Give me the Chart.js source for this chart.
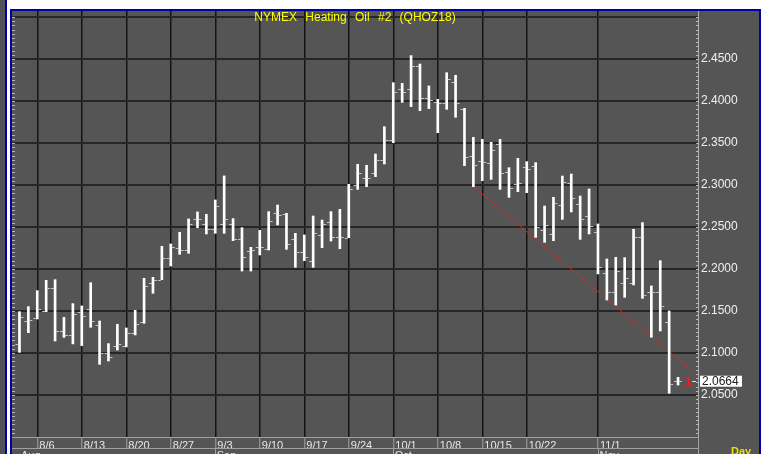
<!DOCTYPE html>
<html>
<head>
<meta charset="utf-8">
<script src="https://cdn.jsdelivr.net/npm/chart.js@4.4.1/dist/chart.umd.min.js"></script>
<style>
  html, body { margin: 0; padding: 0; background: #fff; }
  body { width: 766px; height: 454px; position: relative; overflow: hidden; }
  #strip { position: absolute; left: 0; top: 0; width: 5px; height: 454px; background: #50505a; }
  #rule { position: absolute; left: 5px; top: 0; width: 2px; height: 454px; background: #0000a8; }
  #frame { position: absolute; left: 10px; top: 9px; width: 747px; height: 443px; border: 2px solid #0000a8; border-bottom: 0; background: #555; }
  #c { position: absolute; left: 12px; top: 11px; background: #555; }
</style>
</head>
<body>
<div id="strip"></div>
<div id="rule"></div>
<div id="frame"></div>
<canvas id="c" width="747" height="443"></canvas>
<script>
// trading day index: 0 = 8/6; first bar is 8/2
const firstDay = -2;
const weekTicks = [0, 5, 10, 15, 20, 25, 30, 35, 40, 45, 50, 55, 63];
const weekLabels = ['8/6', '8/13', '8/20', '8/27', '9/3', '9/10', '9/17', '9/24', '10/1', '10/8', '10/15', '10/22', '11/1'];
const monthTicks = [-2, 20, 40, 63];
const monthLabels = ['Aug', 'Sep', 'Oct', 'Nov'];

const opens = [
  2.1112, 2.1385, 2.1420, 2.1500, 2.1778, 2.1262, 2.1215, 2.1492, 2.1528, 2.1333,
  2.1004, 2.1088, 2.1088, 2.1234, 2.1366, 2.1830, 2.1873, 2.2131, 2.2250, 2.2227,
  2.2592, 2.2536, 2.2472, 2.2536, 2.2536, 2.2357, 2.2214, 2.2266, 2.2238, 2.2671,
  2.2659, 2.2353, 2.2206, 2.2099, 2.2405, 2.2564, 2.2377, 2.2373, 2.2996, 2.3087,
  2.3147, 2.3298, 2.3536, 2.4139, 2.4139, 2.4421, 2.4032, 2.3988, 2.3980, 2.4230,
  2.3901, 2.3345, 2.3290, 2.3266, 2.3488, 2.3151, 2.3008, 2.3218, 2.3226, 2.2464,
  2.2413, 2.2758, 2.3028, 2.2774, 2.2631, 2.2437, 2.1948, 2.1730, 2.1837, 2.1829,
  2.2377, 2.1730, 2.1730, 2.1365, 2.0671
];
const highs = [
  2.1492, 2.1552, 2.1742, 2.1865, 2.1873, 2.1425, 2.1588, 2.1560, 2.1837, 2.1381,
  2.1112, 2.1342, 2.1298, 2.1508, 2.1889, 2.1901, 2.2270, 2.2298, 2.2437, 2.2596,
  2.2679, 2.2651, 2.2822, 2.3108, 2.2600, 2.2492, 2.2258, 2.2460, 2.2683, 2.2762,
  2.2663, 2.2425, 2.2405, 2.2631, 2.2583, 2.2683, 2.2710, 2.3008, 2.3246, 2.3234,
  2.3369, 2.3694, 2.4218, 2.4210, 2.4540, 2.4440, 2.4179, 2.4020, 2.4337, 2.4306,
  2.3913, 2.3567, 2.3544, 2.3508, 2.3544, 2.3206, 2.3317, 2.3278, 2.3266, 2.2750,
  2.2853, 2.3107, 2.3131, 2.2869, 2.2952, 2.2536, 2.2119, 2.2139, 2.2135, 2.2472,
  2.2552, 2.1798, 2.2099, 2.1500, 2.0710
];
const lows = [
  2.1008, 2.1242, 2.1405, 2.1492, 2.1143, 2.1187, 2.1108, 2.1088, 2.1306, 2.0865,
  2.0905, 2.1036, 2.1072, 2.1215, 2.1354, 2.1711, 2.1873, 2.2036, 2.2175, 2.2187,
  2.2492, 2.2417, 2.2425, 2.2425, 2.2337, 2.1976, 2.1976, 2.2167, 2.2226, 2.2524,
  2.2234, 2.2020, 2.2099, 2.2020, 2.2254, 2.2333, 2.2242, 2.2373, 2.2948, 2.2980,
  2.3099, 2.3250, 2.3504, 2.3984, 2.3933, 2.3885, 2.3909, 2.3623, 2.3901, 2.3806,
  2.3230, 2.2980, 2.3052, 2.3067, 2.2948, 2.2853, 2.2921, 2.2909, 2.2377, 2.2317,
  2.2337, 2.2591, 2.2679, 2.2353, 2.2417, 2.1941, 2.1631, 2.1571, 2.1663, 2.1810,
  2.1651, 2.1187, 2.1262, 2.0520, 2.0619
];
const closes = [
  2.1429, 2.1393, 2.1520, 2.1778, 2.1262, 2.1215, 2.1468, 2.1441, 2.1385, 2.1000,
  2.0953, 2.1108, 2.1242, 2.1342, 2.1802, 2.1865, 2.2131, 2.2258, 2.2227, 2.2536,
  2.2592, 2.2476, 2.2750, 2.2592, 2.2361, 2.2147, 2.2226, 2.2266, 2.2571, 2.2643,
  2.2298, 2.2206, 2.2139, 2.2433, 2.2536, 2.2377, 2.2377, 2.2948, 2.3147, 2.3087,
  2.3298, 2.3536, 2.4111, 2.4111, 2.4421, 2.4032, 2.4012, 2.3980, 2.4258, 2.3972,
  2.3337, 2.3238, 2.3278, 2.3417, 2.3139, 2.2968, 2.3028, 2.3194, 2.2504, 2.2524,
  2.2790, 2.3032, 2.2841, 2.2595, 2.2516, 2.2024, 2.1730, 2.1972, 2.1889, 2.2377,
  2.1690, 2.1730, 2.1560, 2.0631, 2.0664
];
const lastPrice = 2.0664;
const trendDays = [49, 73.7];
const trendPrices = [2.2980, 2.0777];

const FONT = 'Liberation Sans, Arial, sans-serif';

// open (left) and close (right) ticks of each bar
const ohlcTicks = {
  id: 'ohlcTicks',
  afterDatasetsDraw(chart) {
    const { ctx, scales: { x, y } } = chart;
    ctx.save();
    ctx.strokeStyle = '#c4c4c4';
    ctx.lineWidth = 1;
    ctx.beginPath();
    opens.forEach((o, i) => {
      const px = x.getPixelForValue(i + firstDay);
      const yo = Math.round(y.getPixelForValue(o)) + 0.5;
      const yc = Math.round(y.getPixelForValue(closes[i])) + 0.5;
      ctx.moveTo(px - 4, yo); ctx.lineTo(px - 1, yo);
      ctx.moveTo(px + 1, yc); ctx.lineTo(px + 4, yc);
    });
    ctx.stroke();
    ctx.restore();
  }
};

const decorations = {
  id: 'decorations',
  afterDraw(chart) {
    const { ctx, chartArea: a, scales: { x, y } } = chart;
    const H = chart.height;
    ctx.save();

    // minor ticks on both price edges
    ctx.strokeStyle = '#b8b8b8';
    ctx.lineWidth = 1;
    ctx.beginPath();
    for (let k = 0; k <= 100; k++) {
      const py = Math.round(y.getPixelForValue(2 + k * 0.005)) + 0.5;
      if (py < a.top || py > a.bottom) continue;
      ctx.moveTo(a.left, py); ctx.lineTo(a.left + 3, py);
      ctx.moveTo(a.right - 2, py); ctx.lineTo(a.right + 1, py);
    }
    ctx.stroke();

    // date rows
    ctx.strokeStyle = '#a0a0a0';
    ctx.beginPath();
    ctx.moveTo(a.left, a.bottom + 11.5); ctx.lineTo(a.right, a.bottom + 11.5);
    ctx.moveTo(Math.round(a.right) + 0.5, a.bottom); ctx.lineTo(Math.round(a.right) + 0.5, H);
    monthTicks.forEach((d, i) => {
      if (i === 0) return;
      const px = Math.round(x.getPixelForValue(d)) + 0.5;
      ctx.moveTo(px, a.bottom + 11.5); ctx.lineTo(px, H);
    });
    ctx.stroke();

    ctx.fillStyle = '#e8e8e8';
    ctx.font = '11px ' + FONT;
    ctx.textBaseline = 'top';
    ctx.textAlign = 'left';
    monthTicks.forEach((d, i) => {
      ctx.fillText(monthLabels[i], x.getPixelForValue(d) + 1.5, a.bottom + 13);
    });

    // title
    const words = ['NYMEX', 'Heating', 'Oil', '#2', '(QHOZ18)'];
    ctx.font = '12px ' + FONT;
    ctx.fillStyle = '#ffff00';
    ctx.textBaseline = 'alphabetic';
    const gap = 8.3;
    const total = words.reduce((s, w) => s + ctx.measureText(w).width, 0) + gap * (words.length - 1);
    let tx = (a.left + a.right) / 2 - total / 2;
    words.forEach((w) => {
      ctx.fillText(w, tx, 10);
      tx += ctx.measureText(w).width + gap;
    });

    // last price marker and box
    const ly = y.getPixelForValue(lastPrice);
    ctx.fillStyle = '#ff1a1a';
    ctx.font = 'bold 11px ' + FONT;
    ctx.textBaseline = 'middle';
    ctx.fillText('1', a.right - 13, ly + 0.5);
    ctx.strokeStyle = '#dddddd';
    ctx.beginPath();
    ctx.moveTo(a.right - 6, Math.round(ly) + 0.5); ctx.lineTo(a.right - 2, Math.round(ly) + 0.5);
    ctx.stroke();
    ctx.fillStyle = '#ffffff';
    ctx.fillRect(a.right + 2, ly - 5.5, 42, 11);
    ctx.fillStyle = '#202020';
    ctx.font = '12px ' + FONT;
    ctx.fillText(lastPrice.toFixed(4), a.right + 4, ly + 0.5);

    // period
    ctx.fillStyle = '#f2de00';
    ctx.font = 'bold 11px ' + FONT;
    ctx.textBaseline = 'top';
    ctx.fillText('Day', a.right + 33, a.bottom + 9);
    ctx.restore();
  }
};

new Chart(document.getElementById('c'), {
  data: {
    datasets: [
      {
        type: 'bar',
        data: highs.map((h, i) => ({ x: i + firstDay, y: [lows[i], h] })),
        backgroundColor: '#ffffff',
        borderWidth: 0,
        barThickness: 2,
        order: 1,
      },
      {
        type: 'line',
        data: trendDays.map((d, i) => ({ x: d, y: trendPrices[i] })),
        borderColor: '#c0302c',
        borderWidth: 1,
        pointRadius: 0,
        order: 2,
      },
    ],
  },
  options: {
    responsive: false,
    animation: false,
    devicePixelRatio: 1,
    events: [],
    plugins: { legend: { display: false }, tooltip: { enabled: false } },
    scales: {
      x: {
        type: 'linear',
        min: -2.84,
        max: 74.24,
        bounds: 'data',
        offset: false,
        afterBuildTicks: (s) => { s.ticks = weekTicks.map((v) => ({ value: v })); },
        afterFit: (s) => { s.height = 17; s.paddingLeft = 0; s.paddingRight = 0; },
        ticks: {
          autoSkip: false,
          maxRotation: 0,
          align: 'start',
          labelOffset: 2,
          padding: -9,
          color: '#e8e8e8',
          font: { family: FONT, size: 11 },
          callback: (v, i) => weekLabels[i],
        },
        grid: { offset: false, color: '#141414', lineWidth: 1.5, tickColor: '#a0a0a0', tickLength: 11, tickWidth: 1 },
        border: { color: '#a0a0a0', width: 1 },
      },
      y: {
        type: 'linear',
        position: 'right',
        min: 2.0,
        max: 2.50714,
        bounds: 'data',
        afterFit: (s) => { s.width = 61; s.paddingTop = 0; s.paddingBottom = 0; },
        ticks: {
          stepSize: 0.05,
          includeBounds: false,
          padding: 3,
          color: '#f0f0f0',
          font: { family: FONT, size: 12 },
          callback: (v) => (v < 2.001 || v > 2.499 ? '' : v.toFixed(4)),
        },
        grid: {
          color: (c) => (c.tick && c.tick.value < 2.001 ? 'rgba(0,0,0,0)' : '#262626'),
          lineWidth: 2,
          drawTicks: false,
        },
        border: { color: '#b0b0b0', width: 1 },
      },
    },
  },
  plugins: [ohlcTicks, decorations],
});
</script>
</body>
</html>
